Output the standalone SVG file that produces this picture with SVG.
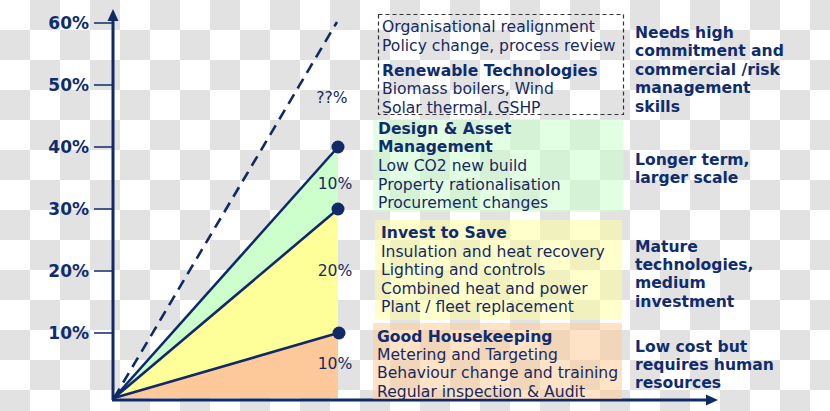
<svg xmlns="http://www.w3.org/2000/svg" width="830" height="411" viewBox="0 0 830 411">
<defs>
<pattern id="chk" patternUnits="userSpaceOnUse" width="60" height="60">
<rect width="60" height="60" fill="#ffffff"/>
<rect x="30" y="0" width="30" height="30" fill="#e2e2e2"/>
<rect x="0" y="30" width="30" height="30" fill="#e2e2e2"/>
</pattern>
<style>
text{font-family:"DejaVu Sans",Verdana,sans-serif;font-size:15.6px;fill:#16295f}
.b{font-weight:bold;fill:#0f2d6e}
.ax{font-weight:bold;font-size:17px;fill:#0f2d6e;text-anchor:end}
.c{text-anchor:middle}
.ln{stroke:#0f2a66;stroke-width:2.6;fill:none}
.axis{stroke:#0f2a66;stroke-width:3;fill:none}
.tick{stroke:#0f2a66;stroke-width:1.5}
.dot{fill:#0f2a66}
</style>
</defs>
<rect width="830" height="411" fill="url(#chk)"/>

<g id="chart">
<polygon points="114,398 338,147 338,209" fill="#ccffcc"/>
<polygon points="114,398 338,209 338,333" fill="#ffff99"/>
<polygon points="114,398 338,333 338,398" fill="#fdc99b"/>
</g>

<g id="axes">
<line class="axis" x1="113" y1="400" x2="113" y2="18"/>
<polygon points="113,9 107.5,21 118.5,21" fill="#0f2a66"/>
<line class="axis" x1="112" y1="400" x2="708" y2="400"/>
<polygon points="718,400 706,394.5 706,405.5" fill="#0f2a66"/>
<line class="tick" x1="94" y1="23" x2="113" y2="23"/>
<line class="tick" x1="94" y1="85" x2="113" y2="85"/>
<line class="tick" x1="94" y1="147" x2="113" y2="147"/>
<line class="tick" x1="94" y1="209" x2="113" y2="209"/>
<line class="tick" x1="94" y1="271" x2="113" y2="271"/>
<line class="tick" x1="94" y1="333" x2="113" y2="333"/>
<text class="ax" x="89" y="29">60%</text>
<text class="ax" x="89" y="91">50%</text>
<text class="ax" x="89" y="153">40%</text>
<text class="ax" x="89" y="215">30%</text>
<text class="ax" x="89" y="277">20%</text>
<text class="ax" x="89" y="339">10%</text>
</g>

<g id="connectors">
<line class="ln" x1="114" y1="398" x2="337" y2="22" stroke-dasharray="11,7"/>
<line class="ln" x1="114" y1="398" x2="338" y2="147"/>
<line class="ln" x1="114" y1="398" x2="338" y2="209"/>
<line class="ln" x1="114" y1="398" x2="338" y2="333"/>
<circle class="dot" cx="338" cy="147" r="6.5"/>
<circle class="dot" cx="338" cy="209" r="6.5"/>
<circle class="dot" cx="339" cy="333" r="6.5"/>
<text class="c" x="332" y="103">??%</text>
<text class="c" x="335" y="189">10%</text>
<text class="c" x="335" y="276">20%</text>
<text class="c" x="335" y="369">10%</text>
</g>

<g id="box-renewable">
<rect x="378.5" y="14.5" width="245" height="100" fill="none" stroke="#333" stroke-width="1.2" stroke-dasharray="4,3"/>
<text x="382" y="32">Organisational realignment</text>
<text x="382" y="51">Policy change, process review</text>
<text class="b" x="382" y="76">Renewable Technologies</text>
<text x="382" y="94">Biomass boilers, Wind</text>
<text x="382" y="113">Solar thermal, GSHP</text>
</g>

<g id="box-design">
<rect x="373" y="119" width="250" height="93" fill="#ccffcc" fill-opacity="0.55"/>
<text class="b" x="378" y="134">Design &amp; Asset</text>
<text class="b" x="378" y="152">Management</text>
<text x="378" y="171">Low CO2 new build</text>
<text x="378" y="190">Property rationalisation</text>
<text x="378" y="208">Procurement changes</text>
</g>

<g id="box-invest">
<rect x="375" y="220" width="247" height="100" fill="#ffff99" fill-opacity="0.5"/>
<text class="b" x="381" y="238">Invest to Save</text>
<text x="381" y="257">Insulation and heat recovery</text>
<text x="381" y="275">Lighting and controls</text>
<text x="381" y="294">Combined heat and power</text>
<text x="381" y="312">Plant / fleet replacement</text>
</g>

<g id="box-housekeeping">
<rect x="373" y="323" width="249" height="76" fill="#ffcc99" fill-opacity="0.55"/>
<text class="b" x="377" y="342">Good Housekeeping</text>
<text x="377" y="360">Metering and Targeting</text>
<text x="377" y="378">Behaviour change and training</text>
<text x="377" y="397">Regular inspection &amp; Audit</text>
</g>

<g id="notes">
<text class="b" x="635" y="38">Needs high</text>
<text class="b" x="635" y="56">commitment and</text>
<text class="b" x="635" y="75">commercial /risk</text>
<text class="b" x="635" y="93">management</text>
<text class="b" x="635" y="112">skills</text>
<text class="b" x="635" y="165">Longer term,</text>
<text class="b" x="635" y="183">larger scale</text>
<text class="b" x="635" y="252">Mature</text>
<text class="b" x="635" y="270">technologies,</text>
<text class="b" x="635" y="288">medium</text>
<text class="b" x="635" y="307">investment</text>
<text class="b" x="635" y="352">Low cost but</text>
<text class="b" x="635" y="370">requires human</text>
<text class="b" x="635" y="388">resources</text>
</g>
</svg>
